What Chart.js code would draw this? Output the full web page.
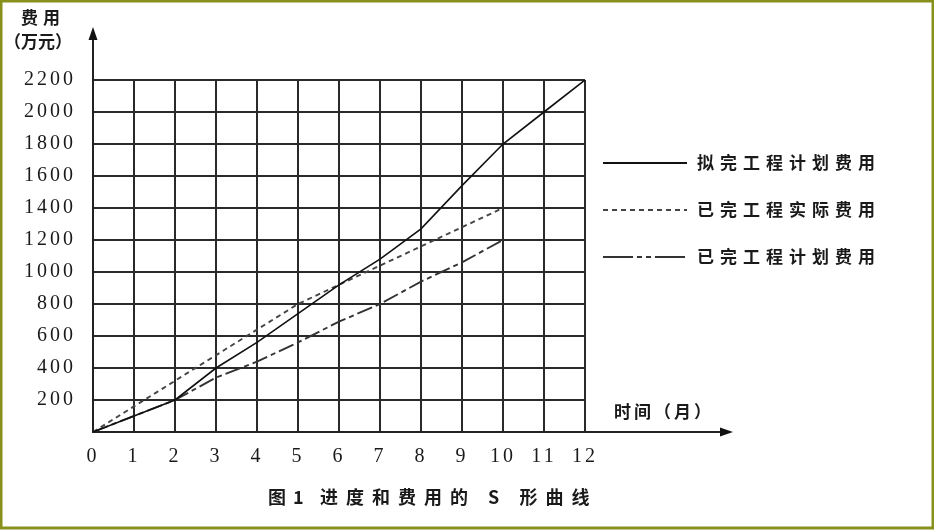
<!DOCTYPE html>
<html>
<head>
<meta charset="utf-8">
<script src="https://cdn.jsdelivr.net/npm/chart.js@4.4.0/dist/chart.umd.min.js"></script>
<style>
html, body { margin: 0; padding: 0; background: #fff; }
</style>
</head>
<body>
<canvas id="myChart" width="934" height="530"></canvas>
<script>
// months on the x axis
var months = [0, 1, 2, 3, 4, 5, 6, 7, 8, 9, 10, 11, 12];
// cost in 10k yuan
var plannedCost = [0, 100, 200, 400, 560, 740, 920, 1080, 1270, 1540, 1800, 2000, 2200];
var actualCost = [0, 160, 320, 480, 640, 800, 920, 1040, 1160, 1280, 1400];
var earnedCost = [0, 100, 200, 340, 440, 560, 690, 800, 940, 1060, 1200];
var seriesNames = ['拟完工程计划费用', '已完工程实际费用', '已完工程计划费用'];
var yTicks = [200, 400, 600, 800, 1000, 1200, 1400, 1600, 1800, 2000, 2200];

function toPoints(values) {
    return values.map(function(v, i) { return { x: months[i], y: v }; });
}

var dashes = [[], [5, 4], [16, 4, 5, 4]];
var colors = ['#111', '#444', '#333'];

var decor = {
    id: 'decor',
    beforeDraw: function(chart) {
        chart.ctx.letterSpacing = '3px';
    },
    afterDraw: function(chart) {
        var ctx = chart.ctx;
        var a = chart.chartArea;
        ctx.save();
        ctx.letterSpacing = '0px';
        ctx.strokeStyle = '#222';
        ctx.fillStyle = '#111';
        ctx.lineWidth = 2;
        // axis extensions with arrows
        ctx.beginPath();
        ctx.moveTo(a.left, a.top);
        ctx.lineTo(a.left, 36);
        ctx.moveTo(a.right, a.bottom);
        ctx.lineTo(726, a.bottom);
        ctx.stroke();
        ctx.beginPath();
        ctx.moveTo(a.left, 27);
        ctx.lineTo(a.left - 4.5, 40);
        ctx.lineTo(a.left + 4.5, 40);
        ctx.closePath();
        ctx.fill();
        ctx.beginPath();
        ctx.moveTo(733, a.bottom);
        ctx.lineTo(720, a.bottom - 4.5);
        ctx.lineTo(720, a.bottom + 4.5);
        ctx.closePath();
        ctx.fill();

        // axis titles
        ctx.fillStyle = '#1a1a1a';
        ctx.textBaseline = 'middle';
        ctx.textAlign = 'left';
        ctx.font = 'bold 17px "Noto Sans CJK SC"';
        ctx.letterSpacing = '5px';
        ctx.fillText('费用', 21, 18);
        ctx.letterSpacing = '0px';
        ctx.fillText('（万元）', 4, 42);
        ctx.letterSpacing = '3px';
        ctx.fillText('时间（月）', 614, 412);

        // legend
        var rowsY = [163, 210, 257];
        ctx.letterSpacing = '6px';
        for (var i = 0; i < seriesNames.length; i++) {
            ctx.save();
            ctx.letterSpacing = '0px';
            ctx.strokeStyle = colors[i];
            ctx.lineWidth = 1.8;
            ctx.setLineDash(i === 2 ? [30, 4, 5, 4, 5, 4] : dashes[i]);
            ctx.beginPath();
            ctx.moveTo(603, rowsY[i]);
            ctx.lineTo(687, rowsY[i]);
            ctx.stroke();
            ctx.restore();
            ctx.fillText(seriesNames[i], 697, rowsY[i]);
        }

        // caption
        ctx.font = 'bold 18px "Noto Sans CJK SC"';
        ctx.letterSpacing = '0px';
        ctx.fillText('图', 268, 497);
        ctx.fillText('1', 293, 497);
        ctx.letterSpacing = '8px';
        ctx.fillText('进度和费用的 S 形曲线', 320, 497);

        // frame
        ctx.letterSpacing = '0px';
        ctx.strokeStyle = '#86901a';
        ctx.lineWidth = 3;
        ctx.strokeRect(1, 1, 932, 527);
        ctx.restore();
    }
};

var ctx = document.getElementById('myChart').getContext('2d');
var myChart = new Chart(ctx, {
    type: 'line',
    data: {
        datasets: [plannedCost, actualCost, earnedCost].map(function(vals, i) {
            return {
                label: seriesNames[i],
                data: toPoints(vals),
                borderColor: colors[i],
                borderWidth: i === 0 ? 1.6 : 1.9,
                borderDash: dashes[i],
                pointRadius: 0,
                tension: 0,
                fill: false
            };
        })
    },
    options: {
        responsive: false,
        animation: false,
        layout: { padding: { left: 0, right: 349, top: 80, bottom: 0 } },
        plugins: {
            legend: { display: false },
            tooltip: { enabled: false }
        },
        scales: {
            x: {
                type: 'linear',
                min: 0,
                max: 12,
                afterFit: function(scale) { scale.height = 98; },
                grid: { color: '#2a2a2a', lineWidth: 2, drawTicks: false },
                border: { color: '#222', width: 2 },
                ticks: {
                    stepSize: 1,
                    padding: 13,
                    color: '#1a1a1a',
                    font: { family: '"Liberation Serif"', size: 20 }
                }
            },
            y: {
                min: 0,
                max: 2200,
                afterFit: function(scale) { scale.width = 93; },
                afterBuildTicks: function(scale) {
                    scale.ticks = [{ value: 0 }].concat(yTicks.map(function(v) { return { value: v }; }));
                },
                grid: { color: '#2a2a2a', lineWidth: 2, drawTicks: false },
                border: { color: '#222', width: 2 },
                ticks: {
                    padding: 17,
                    color: '#1a1a1a',
                    font: { family: '"Liberation Serif"', size: 20 },
                    callback: function(v) { return v === 0 ? '' : v; }
                }
            }
        }
    },
    plugins: [decor]
});
</script>
</body>
</html>
